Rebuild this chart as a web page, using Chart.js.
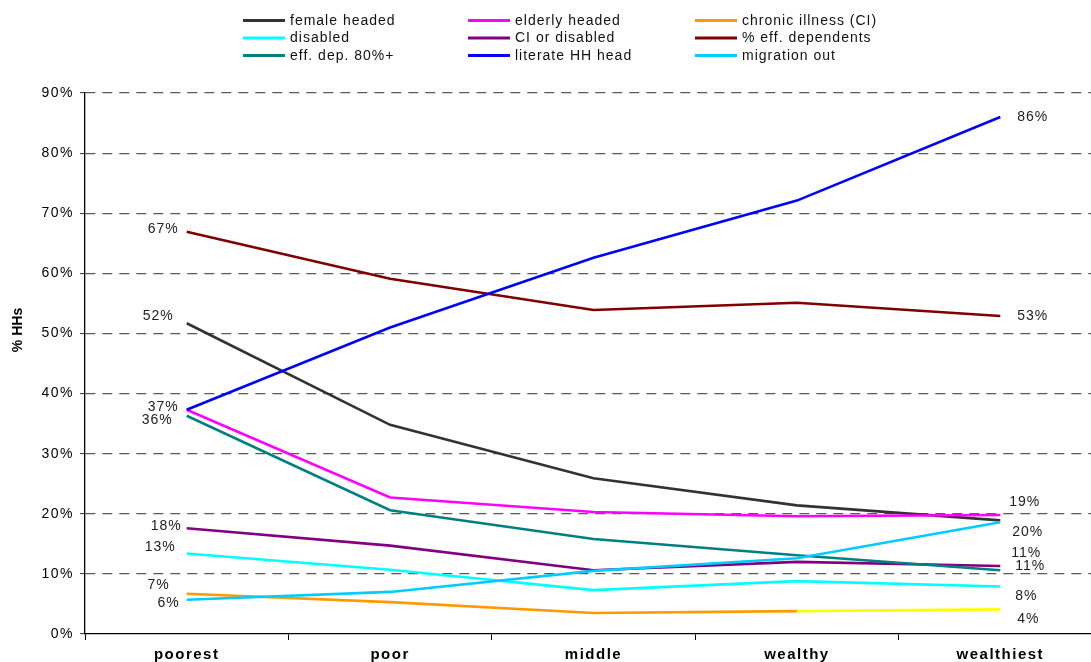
<!DOCTYPE html>
<html>
<head>
<meta charset="utf-8">
<title>Household characteristics by wealth group</title>
<script src="https://cdn.jsdelivr.net/npm/chart.js@4.4.1/dist/chart.umd.min.js"></script>
<style>
  html, body { margin: 0; padding: 0; background: #fff; overflow: hidden; }
  #wrap { width: 1091px; height: 662px; overflow: hidden; }
  canvas { display: block; }
</style>
</head>
<body>
<div id="wrap"><canvas id="chart" width="1102" height="662"></canvas></div>
<script>
// Wealth groups along the x axis
const categories = ['poorest', 'poor', 'middle', 'wealthy', 'wealthiest'];

// Share of households (%) in each wealth group
const femaleHeaded      = [51.7, 34.8, 25.9, 21.4, 18.9];
const elderlyHeaded     = [37.3, 22.7, 20.3, 19.6, 19.8];
const chronicIllness    = [6.7, 5.3, 3.5, 3.8, 4.1];
const disabled          = [13.4, 10.7, 7.3, 8.8, 7.9];
const ciOrDisabled      = [17.6, 14.7, 10.6, 12.0, 11.3];
const effDependents     = [66.9, 59.1, 53.9, 55.1, 52.9];
const effDep80Plus      = [36.3, 20.6, 15.8, 13.1, 10.6];
const literateHead      = [37.3, 51.0, 62.6, 72.1, 86.0];
const migrationOut      = [5.7, 7.0, 10.5, 12.6, 18.6];

// Series names, in legend order
const seriesNames = [
  'female headed', 'elderly headed', 'chronic illness (CI)',
  'disabled', 'CI or disabled', '% eff. dependents',
  'eff. dep. 80%+', 'literate HH head', 'migration out'
];
const seriesValues = [
  femaleHeaded, elderlyHeaded, chronicIllness,
  disabled, ciOrDisabled, effDependents,
  effDep80Plus, literateHead, migrationOut
];

// Y axis range and tick step (percent)
const yMin = 0, yMax = 90, yStep = 10;
const yTitle = '% HHs';

// Styling
const FONT = 'Liberation Sans, Arial, Helvetica, sans-serif';
const seriesColors = [
  '#333333', '#ff00ff', '#ff9900',
  '#00ffff', '#800080', '#800000',
  '#008080', '#0000ff', '#00ccff'
];
const chronicLastSegmentColor = '#ffff00';

// End-point value labels: [dx, dy] offsets from the first / last point (null = no label)
const startLabelOffsets = [
  [-13, -7], null, [-17, -9],
  [-11, -6], [-5, -2], [-8, -3],
  [-14, 4], [-8, -3], [-7, 3]
];
const endLabelOffsets = [
  [9, -18], [12, 17], [17, 10],
  [15, 10], [11, -13], [17, 0],
  [15, -4], [17, 0], null
];

const datasets = seriesValues.map((vals, i) => ({
  label: seriesNames[i],
  data: vals,
  borderColor: seriesColors[i],
  backgroundColor: seriesColors[i],
  borderWidth: 2.6,
  pointRadius: 0,
  tension: 0,
  fill: false,
  order: seriesValues.length - 1 - i,
  segment: i === 2 ? {
    borderColor: ctx => ctx.p0DataIndex === 3 ? chronicLastSegmentColor : undefined
  } : undefined
}));

// Draws the legend grid, the end-point labels and the axis title
const decorations = {
  id: 'decorations',
  beforeDraw(chart) {
    const ctx = chart.ctx;
    ctx.save();
    ctx.fillStyle = '#fff';
    ctx.fillRect(0, 0, chart.width, chart.height);
    ctx.restore();
    ctx.letterSpacing = '1.5px';
  },
  afterDraw(chart) {
    const ctx = chart.ctx;
    ctx.save();

    // legend: three columns, three rows
    const colX = [243, 468, 695];
    const rowY = [20.5, 38, 55.5];
    ctx.font = '14px ' + FONT;
    ctx.letterSpacing = '1px';
    ctx.textBaseline = 'middle';
    ctx.textAlign = 'left';
    chart.data.datasets.forEach((ds, i) => {
      const x = colX[i % 3], y = rowY[Math.floor(i / 3)];
      ctx.strokeStyle = ds.borderColor;
      ctx.lineWidth = 3;
      ctx.setLineDash([]);
      ctx.beginPath();
      ctx.moveTo(x, y);
      ctx.lineTo(x + 42, y);
      ctx.stroke();
      ctx.fillStyle = '#111';
      ctx.fillText(ds.label, x + 47, y + 0.5);
    });

    // value labels at both ends of each line
    const xs = chart.scales.x, ys = chart.scales.y;
    const last = categories.length - 1;
    ctx.fillStyle = '#222';
    chart.data.datasets.forEach((ds, i) => {
      const s = startLabelOffsets[i];
      if (s) {
        const v = ds.data[0];
        ctx.textAlign = 'right';
        ctx.fillText(Math.round(v) + '%', xs.getPixelForValue(0) + s[0], ys.getPixelForValue(v) + s[1]);
      }
      const e = endLabelOffsets[i];
      if (e) {
        const v = ds.data[last];
        ctx.textAlign = 'left';
        ctx.fillText(Math.round(v) + '%', xs.getPixelForValue(last) + e[0], ys.getPixelForValue(v) + e[1]);
      }
    });

    // rotated y-axis title
    ctx.translate(18, 330);
    ctx.rotate(-Math.PI / 2);
    ctx.font = 'bold 14px ' + FONT;
    ctx.letterSpacing = '0px';
    ctx.textAlign = 'center';
    ctx.fillStyle = '#000';
    ctx.fillText(yTitle, 0, 0);

    ctx.restore();
  }
};

new Chart(document.getElementById('chart'), {
  type: 'line',
  data: { labels: categories, datasets },
  plugins: [decorations],
  options: {
    responsive: false,
    animation: false,
    devicePixelRatio: 1,
    layout: { padding: { top: 93, left: 0, right: 0, bottom: 0 } },
    plugins: { legend: { display: false }, tooltip: { enabled: false } },
    scales: {
      x: {
        offset: true,
        grid: { offset: true, drawOnChartArea: false, tickLength: 6, tickColor: '#000', tickWidth: 1 },
        border: { color: '#000', width: 1.3 },
        ticks: {
          font: { family: FONT, size: 15, weight: 'bold' },
          color: '#000',
          padding: 6,
          maxRotation: 0,
          autoSkip: false
        },
        afterFit: s => { s.height = 28; }
      },
      y: {
        min: yMin,
        max: yMax,
        ticks: {
          stepSize: yStep,
          callback: v => v + '%',
          font: { family: FONT, size: 14 },
          color: '#000',
          padding: 6
        },
        grid: {
          color: c => (c.tick && c.tick.value === 0) ? 'rgba(0,0,0,0)' : '#5a5a5a',
          lineWidth: 1.2,
          tickLength: 5,
          tickColor: '#333',
          tickWidth: 1
        },
        border: { color: '#000', width: 1.3, dash: [10, 7] },
        afterFit: s => { s.width = 85; }
      }
    }
  }
});
</script>
</body>
</html>
